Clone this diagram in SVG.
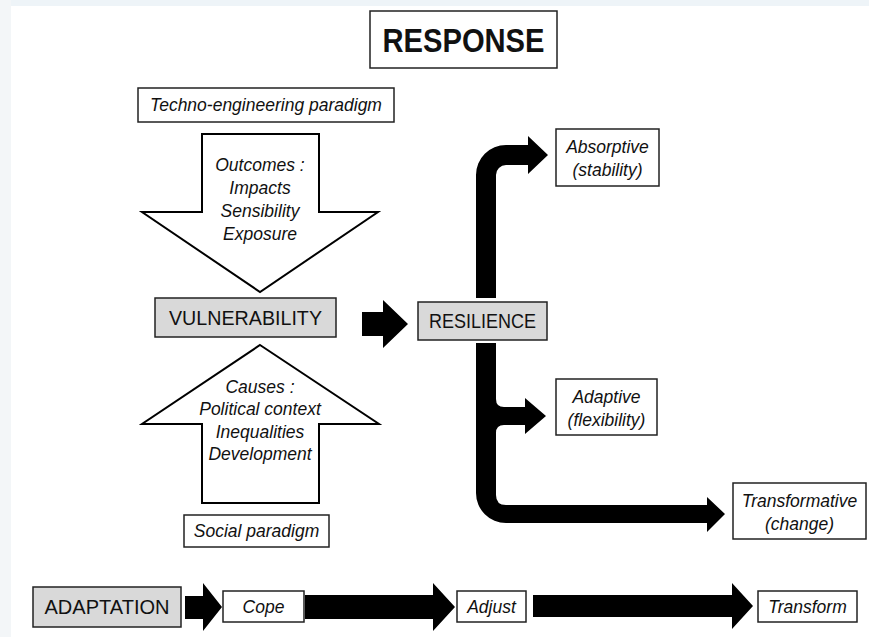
<svg xmlns="http://www.w3.org/2000/svg" width="869" height="637" viewBox="0 0 869 637">
<style>
.bg{fill:#ffffff}
.box{fill:#ffffff;stroke:#222222;stroke-width:1.5}
.grey{fill:#d9d9d9;stroke:#222222;stroke-width:1.5}
.outline{fill:#ffffff;stroke:#000000;stroke-width:2;stroke-linejoin:miter}
.conn{fill:#000000;stroke:none}
text{font-family:"Liberation Sans",Arial,sans-serif;fill:#111111;text-anchor:middle}
.it{font-style:italic;font-size:17.5px}
.cap{font-size:20px}
.title{font-size:34px;font-weight:bold}
</style>
<rect class="bg" x="0" y="0" width="869" height="637"/>
<rect x="0" y="0" width="869" height="6" fill="#eef4f8"/>
<rect x="0" y="0" width="11" height="637" fill="#f3f6f8"/>

<g id="connectors">
  <path class="conn" d="M362,312 L383,312 L383,300 L408,324 L383,348 L383,336 L362,336 Z"/>
  <path class="conn" d="M476,298 L476,175 A30,30 0 0 1 506,145 L528,145 L528,136 L548,155 L528,174 L528,165 L506,165 A10,10 0 0 0 496,175 L496,298 Z"/>
  <path class="conn" d="M476,343 L496,343 L496,399 Q496,407 504,407 L525,407 L525,398 L546,416 L525,434 L525,425 L504,425 Q496,425 496,433 L496,495 Q496,505 506,505 L707,505 L707,497 L725,514 L707,532 L707,523 L506,523 A30,30 0 0 1 476,493 Z"/>
  <path class="conn" d="M185,596 L203,596 L203,583 L222,607 L203,631 L203,619 L185,619 Z"/>
  <path class="conn" d="M305,595 L433,595 L433,583 L455,607 L433,631 L433,619 L305,619 Z"/>
  <path class="conn" d="M533,595 L732,595 L732,583 L753,606 L732,629 L732,617 L533,617 Z"/>
</g>

<g id="response">
  <rect class="box" x="370" y="11" width="187" height="57"/>
  <text class="title" x="463.5" y="52" textLength="162" lengthAdjust="spacingAndGlyphs">RESPONSE</text>
</g>

<g id="techno">
  <rect class="box" x="138" y="88" width="256" height="34"/>
  <text class="it" x="266" y="111">Techno-engineering paradigm</text>
</g>

<g id="outcomes">
  <path class="outline" d="M202,134 L319,134 L319,212 L378,212 L260,292 L142,212 L202,212 Z"/>
  <text class="it" x="260" y="171">Outcomes :</text>
  <text class="it" x="260" y="194">Impacts</text>
  <text class="it" x="260" y="217">Sensibility</text>
  <text class="it" x="260" y="240">Exposure</text>
</g>

<g id="vulnerability">
  <rect class="grey" x="155" y="298" width="181" height="39"/>
  <text x="245.5" y="325" style="font-size:21px" textLength="153" lengthAdjust="spacingAndGlyphs">VULNERABILITY</text>
</g>

<g id="causes">
  <path class="outline" d="M260,345 L379,424 L319,424 L319,503 L202,503 L202,424 L142,424 Z"/>
  <text class="it" x="260" y="393">Causes :</text>
  <text class="it" x="260" y="415">Political context</text>
  <text class="it" x="260" y="438">Inequalities</text>
  <text class="it" x="260" y="460">Development</text>
</g>

<g id="social">
  <rect class="box" x="184" y="515" width="145" height="32"/>
  <text class="it" x="256.5" y="537">Social paradigm</text>
</g>

<g id="resilience">
  <rect class="grey" x="418" y="302" width="129" height="38"/>
  <text class="cap" x="482.5" y="328" textLength="107" lengthAdjust="spacingAndGlyphs">RESILIENCE</text>
</g>

<g id="absorptive">
  <rect class="box" x="556" y="129" width="103" height="57"/>
  <text class="it" x="607.5" y="153">Absorptive</text>
  <text class="it" x="607.5" y="176">(stability)</text>
</g>

<g id="adaptive">
  <rect class="box" x="556" y="379" width="101" height="56"/>
  <text class="it" x="606.5" y="403">Adaptive</text>
  <text class="it" x="606.5" y="426">(flexibility)</text>
</g>

<g id="transformative">
  <rect class="box" x="733" y="483" width="133" height="56"/>
  <text class="it" x="799.5" y="507">Transformative</text>
  <text class="it" x="799.5" y="530">(change)</text>
</g>

<g id="adaptation">
  <rect class="grey" x="33" y="587" width="148" height="40"/>
  <text class="cap" x="107" y="614" textLength="125" lengthAdjust="spacingAndGlyphs">ADAPTATION</text>
</g>

<g id="cope">
  <rect class="box" x="223" y="591" width="81" height="31"/>
  <text class="it" x="263.5" y="612.5">Cope</text>
</g>

<g id="adjust">
  <rect class="box" x="457" y="591" width="69" height="31"/>
  <text class="it" x="491.5" y="612.5">Adjust</text>
</g>

<g id="transform">
  <rect class="box" x="758" y="591" width="99" height="31"/>
  <text class="it" x="807.5" y="612.5">Transform</text>
</g>
</svg>
